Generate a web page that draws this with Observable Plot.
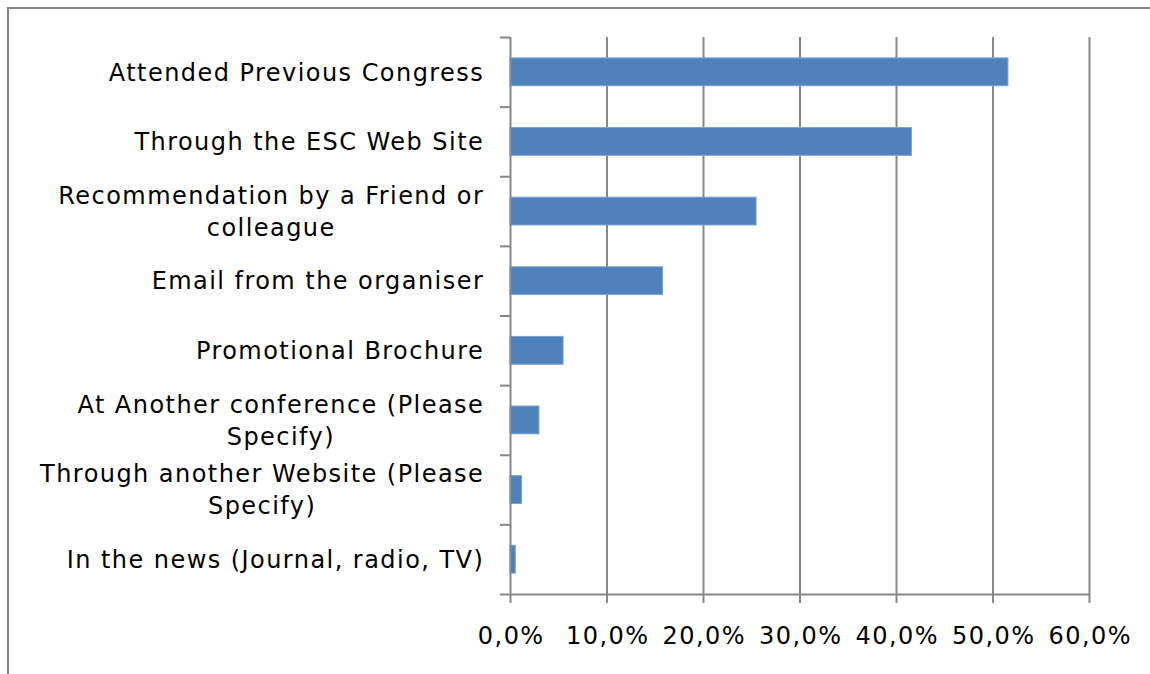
<!DOCTYPE html>
<html>
<head>
<meta charset="utf-8">
<script src="https://cdn.jsdelivr.net/npm/d3@7"></script>
<script src="https://cdn.jsdelivr.net/npm/@observablehq/plot@0.6"></script>
<style>
  html, body { margin: 0; padding: 0; background: #fff; }
  #wrap { position: relative; width: 1150px; height: 674px; overflow: hidden; }
  #border { position: absolute; left: 7px; top: 7px; width: 1200px; height: 700px;
            border-top: 2px solid #878787; border-left: 2px solid #878787; }
  #chart { position: absolute; left: 0; top: 0; }
</style>
</head>
<body>
<div id="wrap"><div id="border"></div><div id="chart"></div></div>
<script>
const categories = [
  "Attended Previous Congress",
  "Through the ESC Web Site",
  "Recommendation by a Friend or\ncolleague",
  "Email from the organiser",
  "Promotional Brochure",
  "At Another conference (Please\nSpecify)",
  "Through another Website (Please\nSpecify)",
  "In the news (Journal, radio, TV)"
];
const values = [51.6, 41.6, 25.5, 15.8, 5.5, 3.0, 1.2, 0.55];
const xTicks = [0, 10, 20, 30, 40, 50, 60];

const data = categories.map((c, i) => ({category: c, value: values[i]}));

const W = 1150, H = 674;
const mL = 510, mR = 61, mT = 37, mB = 80;
const step = (H - mT - mB) / categories.length;
const fontFamily = "'DejaVu Sans', Verdana, sans-serif";
const fontSize = 24;
const letterSpacing = 1.45;
const grey = "#878787";

const ctx = document.createElement("canvas").getContext("2d");
ctx.font = `${fontSize}px ${fontFamily}`;
const lineWidth = l => ctx.measureText(l).width + letterSpacing * l.length;
const blockWidth = s => Math.max(...s.split("\n").map(lineWidth));
const gap = 27;
const pxPerUnit = (W - mL - mR) / 60;
const tickLen = 10 / pxPerUnit;

const labelMarks = categories.map(c => Plot.text([c], {
  y: d => d,
  text: d => d,
  frameAnchor: "left",
  dx: -(gap + blockWidth(c) / 2) + letterSpacing / 2,
  dy: -2,
  textAnchor: "middle",
  lineAnchor: "middle",
  lineHeight: 1.33,
  fill: "#000",
  fontSize: fontSize
}));

const chart = Plot.plot({
  width: W,
  height: H,
  marginLeft: mL,
  marginRight: mR,
  marginTop: mT,
  marginBottom: mB,
  style: {fontFamily: fontFamily, fontSize: fontSize + "px", background: "transparent", color: "#000", letterSpacing: letterSpacing + "px"},
  x: {domain: [0, 60], label: null},
  y: {domain: categories, paddingInner: 0.6, paddingOuter: 0.3, round: false, axis: null},
  marks: [
    Plot.ruleX(xTicks.filter(d => d > 0), {stroke: grey, strokeWidth: 2}),
    Plot.barX(data, {x: "value", y: "category", fill: "#4f81bd", stroke: "#7ea3d3", strokeWidth: 1}),
    // category boundary ticks on the left axis
    Plot.ruleY(categories, {y: d => d, x1: -tickLen, x2: 0, dy: -step / 2, stroke: grey, strokeWidth: 2}),
    Plot.ruleY([categories[categories.length - 1]], {y: d => d, x1: -tickLen, x2: 60, dy: step / 2, stroke: grey, strokeWidth: 2}),
    Plot.ruleX([0], {stroke: grey, strokeWidth: 2}),
    Plot.axisX({ticks: xTicks, tickSize: 9, stroke: grey, strokeWidth: 2, text: null, label: null}),
    Plot.axisX({ticks: xTicks, tickSize: 0, tickPadding: 32, fill: "#000", fontSize: fontSize, label: null,
      dx: letterSpacing / 2,
      tickFormat: d => d.toFixed(1).replace(".", ",") + "%"}),
    ...labelMarks
  ]
});
document.getElementById("chart").appendChild(chart);
</script>
</body>
</html>
